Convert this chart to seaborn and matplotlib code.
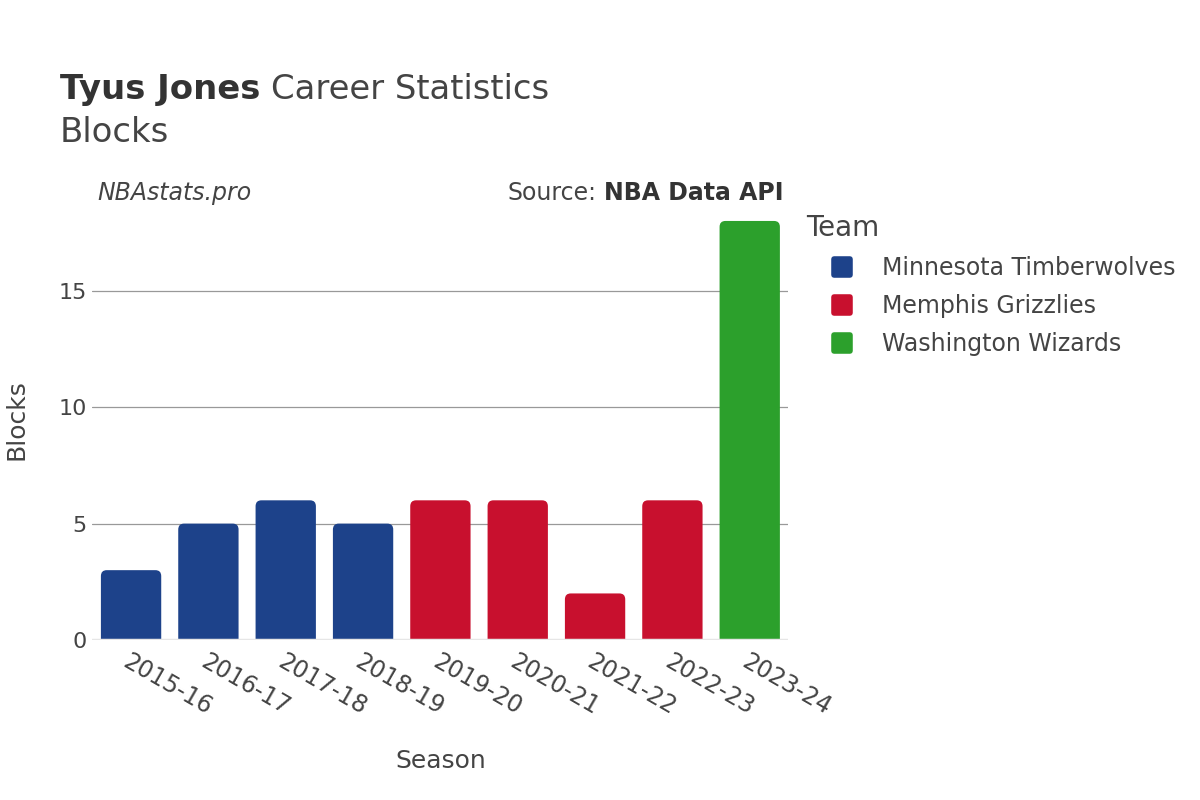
import pandas as pd
import seaborn as sns
import matplotlib.pyplot as plt
from matplotlib.patches import FancyBboxPatch
from matplotlib.lines import Line2D
from matplotlib.markers import MarkerStyle

seasons = ["2015-16", "2016-17", "2017-18", "2018-19", "2019-20",
           "2020-21", "2021-22", "2022-23", "2023-24"]
teams = ["Minnesota Timberwolves"] * 4 + ["Memphis Grizzlies"] * 4 + ["Washington Wizards"]
blocks = [3, 5, 6, 5, 6, 6, 2, 6, 18]

team_order = ["Minnesota Timberwolves", "Memphis Grizzlies", "Washington Wizards"]
team_colors = {"Minnesota Timberwolves": "#1d428a",
               "Memphis Grizzlies": "#c8102e",
               "Washington Wizards": "#2ca02c"}

df = pd.DataFrame({"Season": seasons, "Team": teams, "Blocks": blocks})

sns.set_style("white")
plt.rcParams['font.family'] = ['DejaVu Sans']
txt = "#444444"

fig = plt.figure(figsize=(12, 8), dpi=100)
ax = fig.add_axes([0.077, 0.2, 0.58, 0.55])

sns.barplot(data=df, x="Season", y="Blocks", hue="Team", hue_order=team_order,
            palette=team_colors, dodge=False, width=0.78, saturation=1,
            legend=False, ax=ax)

ax.set_ylim(0, 18.9)
ax.set_xlim(-0.5, len(seasons) - 0.5)

# swap square bars for rounded ones
for p in list(ax.patches):
    x0, w, h = p.get_x(), p.get_width(), p.get_height()
    if h <= 0:
        continue
    fc = p.get_facecolor()
    rb = FancyBboxPatch((x0, -0.5), w, h + 0.5,
                        boxstyle="round,pad=0,rounding_size=0.075",
                        mutation_aspect=3.4, facecolor=fc, edgecolor="none",
                        zorder=2, clip_on=True)
    p.remove()
    ax.add_patch(rb)

ax.set_yticks([0, 5, 10, 15])
ax.yaxis.grid(True, color="#999999", linewidth=0.9)
ax.set_axisbelow(True)
ax.axhline(0, color="#e6e6e6", linewidth=2.5, zorder=3)
for s in ax.spines.values():
    s.set_visible(False)

ax.tick_params(axis="y", labelsize=16, colors=txt, length=0, pad=4)
ax.tick_params(axis="x", labelsize=17, colors=txt, length=0, pad=7)
for lab in ax.get_xticklabels():
    lab.set_rotation(-30)
    lab.set_ha("left")
    lab.set_rotation_mode("anchor")

ax.set_xlabel("Season", fontsize=18, color=txt)
ax.set_ylabel("Blocks", fontsize=18, color=txt)
ax.yaxis.set_label_coords(-0.092, 0.5)
ax.xaxis.set_label_coords(0.5, -0.247)

t1 = fig.text(0.05, 0.876, "Tyus Jones", fontsize=24.4, color="#333333",
              va="baseline", fontweight="bold")
fig.canvas.draw()
bb = t1.get_window_extent()
fig.text(bb.x1 / fig.bbox.width + 0.009, 0.876, "Career Statistics", fontsize=24.4,
         color="#444444", va="baseline")
fig.text(0.05, 0.823, "Blocks", fontsize=24.4, color="#444444", va="baseline")

fig.text(0.081, 0.75, "NBAstats.pro", fontsize=17, color=txt, style="italic",
         va="baseline")
s2 = fig.text(0.653, 0.75, "NBA Data API", fontsize=17, color="#333333",
              fontweight="bold", ha="right", va="baseline")
fig.canvas.draw()
bb2 = s2.get_window_extent()
fig.text(bb2.x0 / fig.bbox.width - 0.006, 0.75, "Source:", fontsize=17, color=txt,
         ha="right", va="baseline")

handles = [Line2D([0], [0], marker=MarkerStyle("s", joinstyle="round"),
                  linestyle="none", markersize=12, markeredgewidth=4,
                  markerfacecolor=team_colors[t], markeredgecolor=team_colors[t])
           for t in team_order]
leg = fig.legend(handles, team_order, title="Team", loc="upper left",
                 bbox_to_anchor=(0.664, 0.744), frameon=False, fontsize=17,
                 title_fontsize=20, handlelength=3.05, handletextpad=0.17,
                 labelspacing=0.59, borderaxespad=0)
leg._legend_box.align = "left"
for t in leg.get_texts():
    t.set_color(txt)
leg.get_title().set_color(txt)

fig.savefig("out.png", dpi=100)
